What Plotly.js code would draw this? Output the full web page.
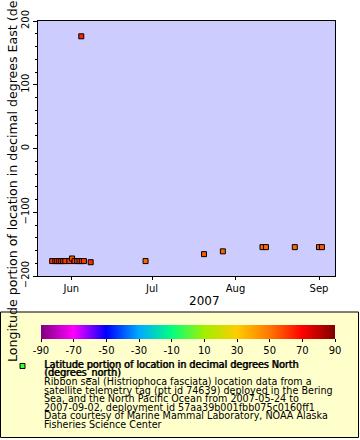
<!DOCTYPE html>
<html>
<head>
<meta charset="utf-8">
<script src="https://cdn.plot.ly/plotly-3.0.1.min.js"></script>
<style>html,body{margin:0;padding:0;background:#fff;}#chart{width:360px;height:440px;}</style>
</head>
<body>
<div id="chart"></div>
<script>
// ---- data ----
const times = [
  '2007-05-24 22:00','2007-05-26 02:00','2007-05-26 19:00','2007-05-27 13:00',
  '2007-05-28 07:00','2007-05-29 00:00','2007-05-29 19:00','2007-05-31 07:00',
  '2007-06-01 07:00','2007-06-02 05:00','2007-06-03 05:00','2007-06-04 02:00',
  '2007-06-04 17:00','2007-06-04 22:00','2007-06-05 17:00','2007-06-08 05:00',
  '2007-06-28 14:00','2007-07-20 07:00','2007-07-27 07:00','2007-08-11 00:00',
  '2007-08-12 07:00','2007-08-23 00:00','2007-09-01 00:00','2007-09-02 02:00'
];
const longitude = [
  -176.6,-176.6,-176.6,-176.6,
  -176.6,-176.6,-176.6,-176.6,
  -172.5,-176.6,-176.6,-176.6,
  176,-176.6,-176.6,-178.4,
  -176.6,-165.7,-161.3,-154.7,
  -154.7,-154.7,-154.7,-154.7
];
const latitude = [
  61,61,61,61,
  61,61,61,61,
  55,61,61,61,
  64,61,61,63,
  53,55,54,53,
  53,53,55,55
];
const colorTicks = [-90,-70,-50,-30,-10,10,30,50,70,90];
const paletteColors = ['#800080','#ff00ff','#0000ff','#00aaff','#00ff80','#a0f000','#ffcc00','#ff7700','#ff0000','#800000'];
const xTitle = '2007';
const yTitle = 'Longitude portion of location in decimal degrees East (degrees_east)';
const legendLines = [
  {t:'Latitude portion of location in decimal degrees North', bold:true},
  {t:'(degrees_north)', bold:true},
  {t:'Ribbon seal (Histriophoca fasciata) location data from a'},
  {t:'satellite telemetry tag (ptt id 74639) deployed in the Bering'},
  {t:'Sea, and the North Pacific Ocean from 2007-05-24 to'},
  {t:'2007-09-02, deployment id 57aa39b001fbb075c0160ff1'},
  {t:'Data courtesy of Marine Mammal Laboratory, NOAA Alaska'},
  {t:'Fisheries Science Center'}
];

// ---- layout geometry ----
const L = 38, T = 21, W = 297, H = 255;
const px2x = p => (p - L) / W;
const py2y = p => (T + H - p) / H;
const FONT = 'DejaVu Sans';

const colorscale = paletteColors.map((c, i) => [i / (paletteColors.length - 1), c]);

const trace = {
  type: 'scatter', mode: 'markers',
  x: times, y: longitude,
  showlegend: false,
  marker: {
    symbol: 'square', size: 5,
    color: latitude, cmin: -90, cmax: 90, colorscale: colorscale,
    line: {color: '#000', width: 1},
    colorbar: {
      orientation: 'h', thickness: 14, lenmode: 'pixels', len: 294,
      x: px2x(188), xanchor: 'center', y: py2y(325), yanchor: 'top',
      xpad: 0, ypad: 0, outlinewidth: 0,
      tickmode: 'array', tickvals: colorTicks, ticktext: colorTicks.map(String),
      ticks: 'outside', ticklen: 3, tickcolor: '#000',
      tickfont: {family: FONT, size: 10, color: '#000'},
      title: {text: ''}
    }
  },
  hoverinfo: 'x+y'
};

const annotations = [];
annotations.push({
  xref: 'paper', yref: 'paper', x: px2x(204), y: py2y(301),
  xanchor: 'center', yanchor: 'middle', showarrow: false,
  text: xTitle, font: {family: FONT, size: 12, color: '#000'}
});
annotations.push({
  xref: 'paper', yref: 'paper', x: px2x(12.5), y: py2y(364),
  xanchor: 'center', yanchor: 'bottom', showarrow: false, textangle: -90,
  text: yTitle, font: {family: FONT, size: 12.6, color: '#000'}
});
const baseline0 = 367.3, pitch = 8.57;
legendLines.forEach((ln, i) => {
  const f = {family: FONT, size: 9.6, color: '#000'};
  if (ln.bold) f.shadow = '0.7px 0 0 #000';
  annotations.push({
    xref: 'paper', yref: 'paper', x: px2x(42), y: py2y(baseline0 + i * pitch - 3),
    xanchor: 'left', yanchor: 'middle', showarrow: false,
    text: ln.t, font: f
  });
});

const layout = {
  width: 360, height: 440,
  margin: {l: L, r: 360 - L - W, t: T, b: 440 - T - H, pad: 0},
  paper_bgcolor: '#ffffff', plot_bgcolor: '#ccccff',
  font: {family: FONT, size: 10, color: '#000'},
  showlegend: false,
  xaxis: {
    type: 'date', range: ['2007-05-19 15:36', '2007-09-06 22:20'],
    tickformat: '%b', dtick: 'M1', tick0: '2007-06-01',
    showgrid: false, zeroline: false,
    showline: true, linecolor: '#000', linewidth: 1, mirror: true,
    ticks: 'outside', ticklen: 3, tickcolor: '#000',
    tickfont: {family: FONT, size: 10, color: '#000'}
  },
  yaxis: {
    range: [-200, 200], tickvals: [-200,-100,0,100,200],
    showgrid: false, zeroline: false,
    showline: true, linecolor: '#000', linewidth: 1, mirror: true,
    ticks: 'outside', ticklen: 4, tickcolor: '#000', tickangle: -90,
    minor: {dtick: 20, ticks: 'outside', ticklen: 2, tickcolor: '#000', showgrid: false},
    tickfont: {family: FONT, size: 10, color: '#000'}
  },
  shapes: [
    {type: 'rect', xref: 'paper', yref: 'paper', layer: 'below',
     x0: px2x(0.5), x1: px2x(358.5), y0: py2y(437.5), y1: py2y(312),
     fillcolor: '#ffffcc', line: {color: '#000', width: 1}},
    {type: 'rect', xref: 'paper', yref: 'paper', layer: 'above',
     x0: px2x(20), x1: px2x(25), y0: py2y(368.5), y1: py2y(363.5),
     fillcolor: '#33ff33', line: {color: '#000', width: 1}}
  ],
  annotations: annotations
};

Plotly.newPlot('chart', [trace], layout, {displayModeBar: false, staticPlot: true});
</script>
</body>
</html>
